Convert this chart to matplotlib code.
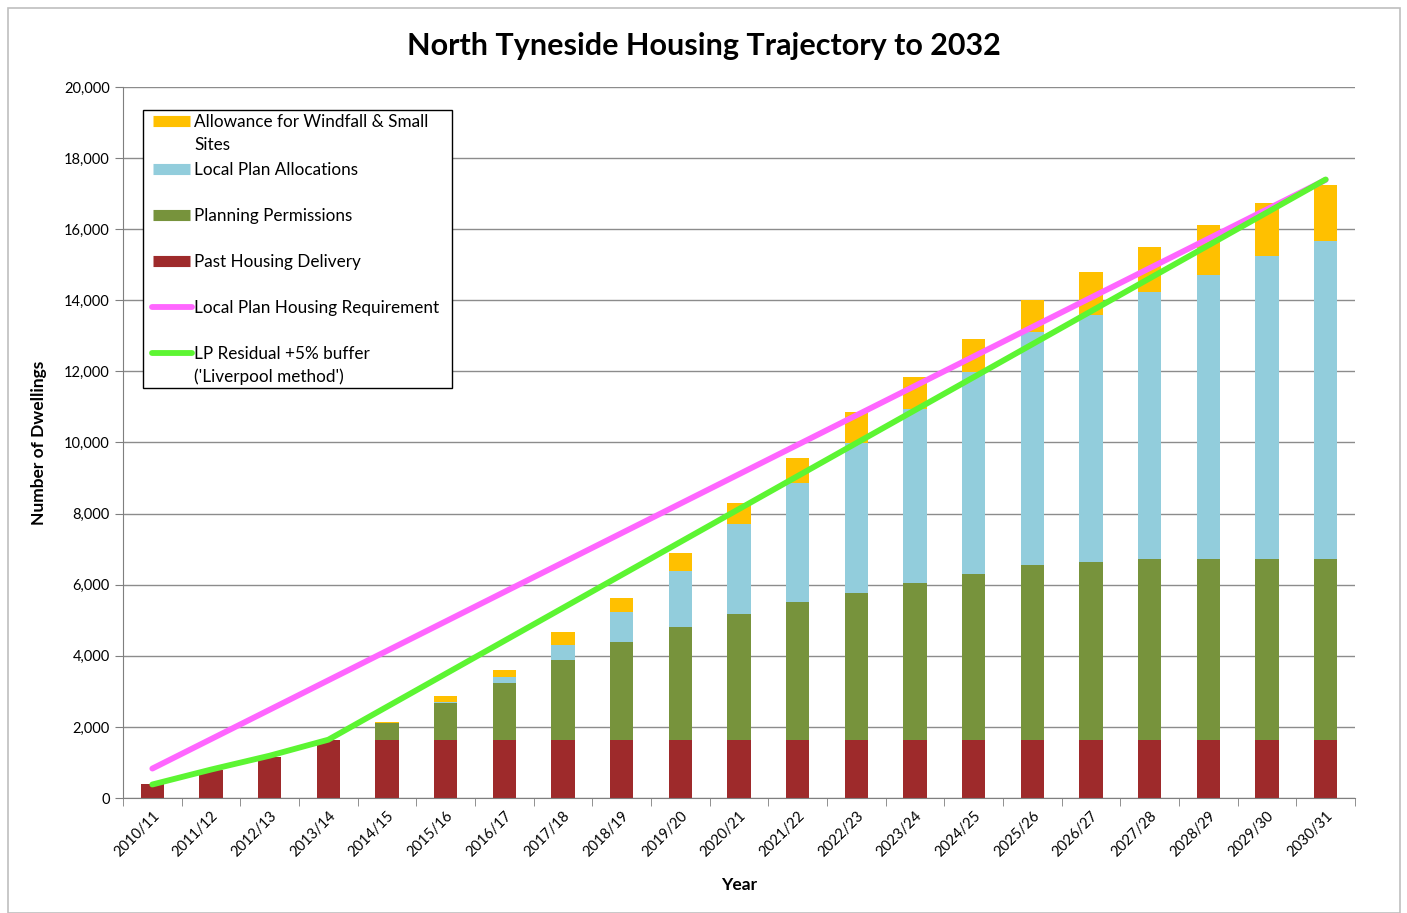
import numpy as np
import matplotlib
matplotlib.use('Agg')
import matplotlib.pyplot as plt
from matplotlib.patches import Rectangle
from matplotlib.lines import Line2D

plt.rcParams['font.family'] = ['Lato', 'DejaVu Sans']

years = ['2010/11', '2011/12', '2012/13', '2013/14', '2014/15', '2015/16', '2016/17',
         '2017/18', '2018/19', '2019/20', '2020/21', '2021/22', '2022/23', '2023/24',
         '2024/25', '2025/26', '2026/27', '2027/28', '2028/29', '2029/30', '2030/31']

# stacked components (dwellings)
past_delivery = [380, 780, 1150, 1630, 1630, 1630, 1630, 1630, 1630, 1630, 1630,
                 1630, 1630, 1630, 1630, 1630, 1630, 1630, 1630, 1630, 1630]
permissions = [0, 0, 0, 0, 480, 1040, 1600, 2250, 2770, 3190, 3550,
               3890, 4150, 4420, 4670, 4920, 5010, 5090, 5090, 5090, 5090]
allocations = [0, 0, 0, 0, 0, 40, 170, 420, 820, 1570, 2530,
               3340, 4210, 4890, 5680, 6560, 6950, 7520, 7990, 8530, 8960]
windfall = [0, 0, 0, 0, 20, 160, 200, 370, 400, 510, 590,
            700, 870, 900, 930, 900, 1210, 1270, 1410, 1480, 1560]

# lines
lp_requirement = [828, 1656, 2484, 3312, 4140, 4968, 5796, 6624, 7452, 8280, 9108,
                  9936, 10764, 11592, 12420, 13248, 14076, 14904, 15732, 16560, 17388]
lp_residual = [380, 800, 1190, 1640, 2567, 3494, 4421, 5348, 6275, 7202, 8129,
               9056, 9983, 10910, 11837, 12764, 13691, 14618, 15545, 16472, 17399]

c_past = '#9E2A2B'
c_perm = '#77933C'
c_alloc = '#92CDDC'
c_wind = '#FFC000'
c_req = '#FF66FF'
c_res = '#5CF532'

W, H = 1407, 913
fig = plt.figure(figsize=(W / 100, H / 100), dpi=100)
ax = fig.add_axes([123 / W, 1 - 798 / H, 1232 / W, 711 / H])

x = np.arange(len(years))
w = 0.4
b1 = np.array(past_delivery)
b2 = b1 + np.array(permissions)
b3 = b2 + np.array(allocations)
ax.bar(x, past_delivery, w, color=c_past, zorder=2)
ax.bar(x, permissions, w, bottom=b1, color=c_perm, zorder=2)
ax.bar(x, allocations, w, bottom=b2, color=c_alloc, zorder=2)
ax.bar(x, windfall, w, bottom=b3, color=c_wind, zorder=2)

ax.plot(x, lp_requirement, color=c_req, lw=4.2, zorder=3, solid_capstyle='round')
ax.plot(x, lp_residual, color=c_res, lw=4.2, zorder=4, solid_capstyle='round')

ax.set_xlim(-0.5, len(years) - 0.5)
ax.set_ylim(0, 20000)
ax.set_yticks(np.arange(0, 20001, 2000))
ax.set_yticklabels(['{:,}'.format(v) for v in range(0, 20001, 2000)], fontsize=10.5)
ax.yaxis.grid(True, color='#8C8C8C', lw=1.0, zorder=0)
ax.set_axisbelow(True)

ax.set_xticks(x)
ax.set_xticklabels(years, rotation=45, ha='right', rotation_mode='anchor', fontsize=10.5)
ax.tick_params(axis='x', which='major', length=0, pad=8)
ax.set_xticks(np.arange(-0.5, len(years), 1), minor=True)
ax.tick_params(axis='x', which='minor', length=6, color='#7F7F7F', direction='out')
ax.tick_params(axis='y', length=6, color='#7F7F7F', direction='out')

for s in ['top', 'right']:
    ax.spines[s].set_visible(False)
for s in ['left', 'bottom']:
    ax.spines[s].set_color('#7F7F7F')

ax.set_xlabel('Year', fontsize=12.5, fontweight='bold', labelpad=12)
ax.set_ylabel('Number of Dwellings', fontsize=12.5, fontweight='bold', labelpad=12)
fig.text(0.5, 1 - 46 / H, 'North Tyneside Housing Trajectory to 2032', ha='center', va='center',
         fontsize=22, fontweight='bold')

# legend box drawn by hand (pixel layout of the original)
def fx(px):
    return px / W

def fy(py):
    return 1 - py / H

fig.patches.append(Rectangle((fx(143), fy(388)), fx(452) - fx(143), fy(110) - fy(388),
                             transform=fig.transFigure, facecolor='white',
                             edgecolor='#000000', lw=1.0, zorder=5))
leg_items = [
    (c_wind, 8, 121, 'Allowance for Windfall & Small\nSites'),
    (c_alloc, 8, 169, 'Local Plan Allocations'),
    (c_perm, 8, 215, 'Planning Permissions'),
    (c_past, 8, 261, 'Past Housing Delivery'),
    (c_req, 4.2, 307, 'Local Plan Housing Requirement'),
    (c_res, 4.2, 353, "LP Residual +5% buffer\n('Liverpool method')"),
]
for col, lw, py, lab in leg_items:
    x0, x1 = (153, 190) if lw > 5 else (152, 192)
    fig.add_artist(Line2D([fx(x0), fx(x1)], [fy(py), fy(py)], transform=fig.transFigure,
                          color=col, lw=lw, zorder=6,
                          solid_capstyle='butt' if lw > 5 else 'round'))
    fig.text(fx(194), fy(py - 7), lab, ha='left', va='top', fontsize=12.3,
             linespacing=1.5, zorder=6)

fig.patches.append(Rectangle((8 / W, 0.0), 1392 / W, 1 - 8 / H, transform=fig.transFigure,
                             fill=False, edgecolor='#BFBFBF', lw=1.2))

fig.savefig('out.png', dpi=100)
